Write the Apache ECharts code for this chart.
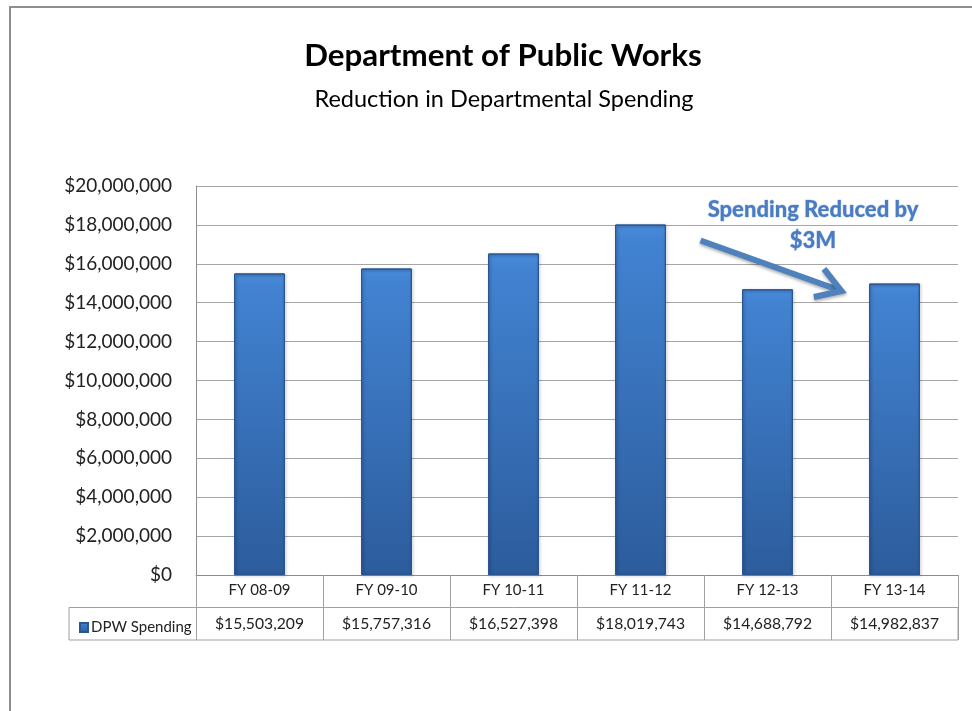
<!DOCTYPE html>
<html>
<head>
<meta charset="utf-8">
<script src="https://cdn.jsdelivr.net/npm/echarts@6/dist/echarts.min.js"></script>
<style>
html,body{margin:0;padding:0;background:#fff;}
#chart{width:972px;height:711px;}
</style>
</head>
<body>
<div id="chart"></div>
<script>
var categories = ['FY 08-09', 'FY 09-10', 'FY 10-11', 'FY 11-12', 'FY 12-13', 'FY 13-14'];
var spending = [15503209, 15757316, 16527398, 18019743, 14688792, 14982837];
var seriesName = 'DPW Spending';
var titleText = 'Department of Public Works';
var subtitleText = 'Reduction in Departmental Spending';
var noteLines = ['Spending Reduced by', '$3M'];

var FONT = 'Lato';
function money(v) { return '$' + Number(v).toLocaleString('en-US'); }

var G = { left: 196, right: 14, top: 186, bottom: 136 };
var plotRight = 972 - G.right;

var chart = echarts.init(document.getElementById('chart'));
var barGrad = new echarts.graphic.LinearGradient(0, 0, 0, 1, [
  { offset: 0, color: '#4a8cdc' },
  { offset: 0.04, color: '#4283d2' },
  { offset: 1, color: '#2c5c9c' }
]);
var option = {
  backgroundColor: '#fff',
  animation: false,
  title: [
    { text: titleText, left: 498, top: 35, textAlign: 'center',
      textStyle: { fontFamily: FONT, fontWeight: 'bold', fontSize: 31.3, color: '#000' } },
    { text: subtitleText, left: 499, top: 82, textAlign: 'center',
      textStyle: { fontFamily: FONT, fontWeight: 'normal', fontSize: 23.5, color: '#000' } }
  ],
  legend: {
    data: [{ name: seriesName, icon: 'rect' }],
    left: 74, top: 615, itemWidth: 8, itemHeight: 9, itemGap: 4,
    textStyle: { fontFamily: FONT, fontSize: 15, color: '#222', padding: [0, 0, 0, -2] }
  },
  grid: { left: G.left, right: G.right, top: G.top, bottom: G.bottom, containLabel: false },
  xAxis: [
    { type: 'category', data: categories, boundaryGap: true,
      axisLine: { show: true, lineStyle: { color: '#8c8c8c', width: 1 } },
      axisTick: { show: true, length: 65, interval: 0, lineStyle: { color: '#a0a0a0' } },
      axisLabel: { fontFamily: FONT, fontSize: 15, color: '#222', margin: 8, interval: 0 } },
    { type: 'category', data: categories, position: 'bottom', offset: 33, boundaryGap: true,
      axisLine: { show: false }, axisTick: { show: false },
      axisLabel: { fontFamily: FONT, fontSize: 15.7, color: '#222', margin: 8, interval: 0,
        formatter: function (v, i) { return money(spending[i]); } } }
  ],
  yAxis: {
    type: 'value', min: 0, max: 20000000, interval: 2000000,
    axisLine: { show: true, lineStyle: { color: '#8c8c8c' } },
    axisTick: { show: false },
    splitLine: { lineStyle: { color: '#a6a6a6', width: 1 } },
    axisLabel: { fontFamily: FONT, fontSize: 19, color: '#222', margin: 24, formatter: money }
  },
  series: [{
    name: seriesName, type: 'bar', data: spending, barWidth: '40%',
    itemStyle: { color: barGrad, borderColor: '#2a5590', borderWidth: 1,
      shadowColor: 'rgba(0,0,0,0.35)', shadowBlur: 3, shadowOffsetX: 1, shadowOffsetY: 1 }
  }]
};
chart.setOption(option);

// annotation placed relative to data positions
var pA = chart.convertToPixel({ xAxisIndex: 0, yAxisIndex: 0 }, [categories[3], 17000000]);
var pB = chart.convertToPixel({ xAxisIndex: 0, yAxisIndex: 0 }, [categories[4], 18900000]);
var start = [pA[0] + 60, chart.convertToPixel({ yAxisIndex: 0 }, 17200000)];
var end = [pB[0] + 74, chart.convertToPixel({ yAxisIndex: 0 }, 14600000)];
var ang = Math.atan2(end[1] - start[1], end[0] - start[0]);
var hl = 24, hw = 15;
function rot(dx, dy) { return [end[0] + dx * Math.cos(ang) - dy * Math.sin(ang), end[1] + dx * Math.sin(ang) + dy * Math.cos(ang)]; }
var arrowColor = '#4f81bd';
chart.setOption({
  graphic: [
    { type: 'rect', silent: true, z: -1,
      shape: { x: 10, y: 7, width: 1100, height: 900 },
      style: { fill: '#fff', stroke: '#8e8e8e', lineWidth: 2 } },
    { type: 'rect', silent: true, z: 10,
      shape: { x: 69, y: 607.5, width: plotRight - 69, height: 32.5 },
      style: { fill: 'none', stroke: '#a0a0a0', lineWidth: 1 } },
    { type: 'line', silent: true, z: 20,
      shape: { x1: start[0], y1: start[1], x2: rot(-6, 0)[0], y2: rot(-6, 0)[1] },
      style: { stroke: arrowColor, lineWidth: 6, shadowColor: 'rgba(0,0,0,0.3)', shadowBlur: 3, shadowOffsetY: 2 } },
    { type: 'polyline', silent: true, z: 20,
      shape: { points: [rot(-hl, -hw), end, rot(-hl, hw)] },
      style: { stroke: arrowColor, lineWidth: 6, fill: 'none', lineJoin: 'miter',
        shadowColor: 'rgba(0,0,0,0.3)', shadowBlur: 3, shadowOffsetY: 2 } },
    { type: 'text', silent: true, z: 30, x: 813, y: 194,
      style: { text: noteLines.join('\n'), fill: '#4a7cc4', align: 'center', verticalAlign: 'top',
        font: '900 22px ' + FONT, lineHeight: 31, stroke: '#c9d9ef', lineWidth: 1,
        shadowColor: 'rgba(0,0,0,0.35)', shadowBlur: 2, shadowOffsetY: 1 } }
  ]
});
</script>
</body>
</html>
